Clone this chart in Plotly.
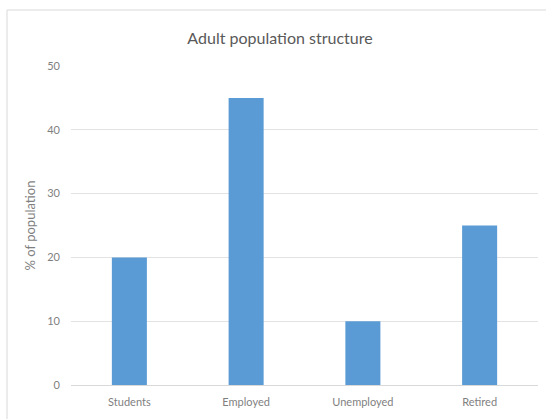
import plotly.graph_objects as go

categories = ["Students", "Employed", "Unemployed", "Retired"]
values = [20, 45, 10, 25]
y_ticks = [0, 10, 20, 30, 40, 50]

W, H = 546, 419
L, R, T, B = 71, 8, 66, 34
pw, ph = W - L - R, H - T - B

fig = go.Figure(go.Bar(x=categories, y=values, marker=dict(color="#5B9BD5", line=dict(width=0)), width=0.3))

font_family = "Lato, 'Open Sans', sans-serif"
fig.update_layout(
    width=W, height=H,
    margin=dict(l=L, r=R, t=T, b=B),
    paper_bgcolor="white", plot_bgcolor="white",
    showlegend=False,
    font=dict(family=font_family, color="#7f7f7f", size=11),
    title=dict(text="Adult population structure", x=280 / W, xanchor="center",
               y=1 - 38 / H, yanchor="middle", yref="container",
               font=dict(size=16, color="#595959", family=font_family)),
    xaxis=dict(showgrid=False, showline=False, ticks="", ticklabelstandoff=9,
               tickfont=dict(size=11, color="#7f7f7f")),
    yaxis=dict(range=[0, 50], tickvals=y_ticks, showgrid=True, gridcolor="#e3e3e3", gridwidth=1,
               zeroline=True, zerolinecolor="#d9d9d9", zerolinewidth=1, showline=False,
               ticks="", ticklen=0, ticklabelstandoff=10, tickfont=dict(size=11, color="#7f7f7f"),
               title=dict(text="% of population", standoff=8, font=dict(size=13, color="#7f7f7f"))),
    shapes=[dict(type="rect", xref="paper", yref="paper",
                 x0=(7 - L) / pw, x1=(W + 5 - L) / pw,
                 y0=-(H + 5 - T - ph) / ph, y1=1 + (T - 10) / ph,
                 line=dict(color="#d9d9d9", width=1), fillcolor="rgba(0,0,0,0)", layer="below")],
)

fig.write_html("out.html")
